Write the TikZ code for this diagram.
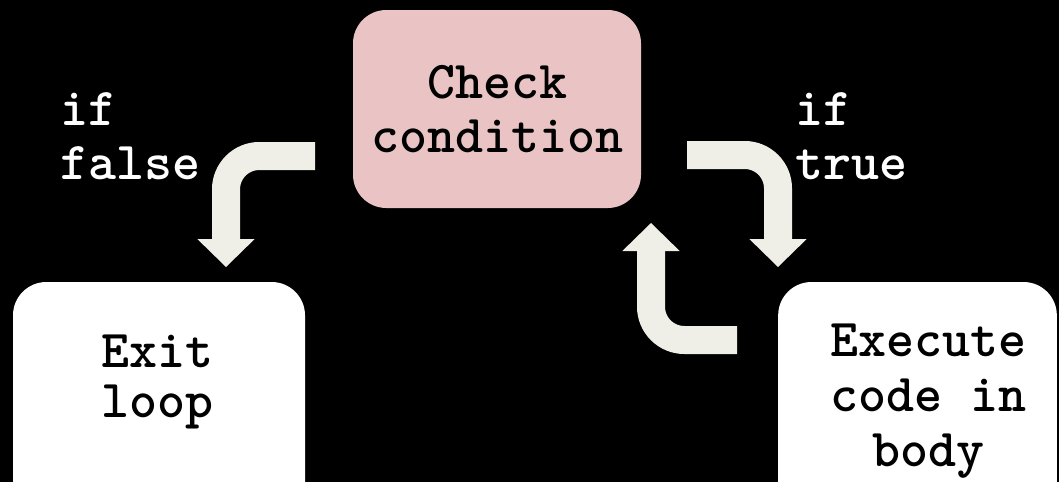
\documentclass[tikz,border=0pt]{standalone}
\usepackage{fontspec}
\newfontfamily\codefont{lmmonolt10-bold}[Extension=.otf]
\usetikzlibrary{arrows.meta}
\definecolor{checkpink}{RGB}{234,196,196}
\definecolor{arrowgrey}{RGB}{239,239,231}
\begin{document}
\begin{tikzpicture}[x=0.75pt,y=-0.75pt,
  box/.style={rounded corners=25pt,inner sep=0pt,align=center,
    font=\codefont\fontsize{40}{41}\selectfont},
  boxtext/.style={inner sep=0pt,align=center,font=\codefont\fontsize{40}{41}\selectfont},
  ifword/.style={text=white,inner sep=0pt,align=left,anchor=north west,
    font=\codefont\fontsize{40}{41}\selectfont},
  bigarrow/.style={draw=arrowgrey,line width=21pt,rounded corners=25pt,
    -{Triangle[width=43pt,length=21pt,line width=0pt]}}]
\useasboundingbox (0,0) rectangle (1059,482);
\fill[black] (0,0) rectangle (1059,482);
\clip (0,0) rectangle (1059,482);
% boxes
\node[box,fill=checkpink,minimum width=216pt,minimum height=148.5pt] (check) at (497,109) {Check\\condition};
\node[box,fill=white,minimum width=219pt,minimum height=193.5pt] (exit) at (159,411) {};
\node[boxtext,font=\codefont\fontsize{40}{38}\selectfont] (exittext) at (157,382) {Exit\\loop};
\node[box,fill=white,minimum width=209pt,minimum height=193.5pt] (body) at (917.5,411) {};
\node[boxtext] (bodytext) at (928,401) {Execute\\code in\\body};
% labels
\node[ifword] (iffalse) at (60,92) {if\\false};
\node[ifword] (iftrue) at (795,92) {if\\true};
% arrows
\coordinate (falsestart) at (315,156);
\coordinate (falseend) at (226,267);
\coordinate (truestart) at (687,155);
\coordinate (trueend) at (778,267);
\coordinate (backstart) at (737,340);
\coordinate (backend) at (651,223);
\draw[bigarrow] (falsestart) -| (falseend);
\draw[bigarrow] (truestart) -| (trueend);
\draw[bigarrow] (backstart) -| (backend);
\end{tikzpicture}
\end{document}
